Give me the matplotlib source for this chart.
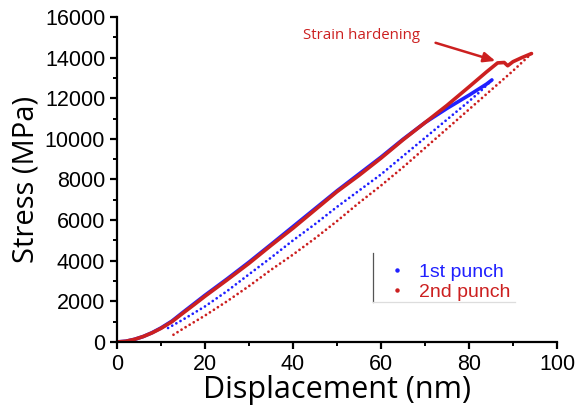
import matplotlib.pyplot as plt
from matplotlib.lines import Line2D

# =========================
# DATA
# =========================
# 2nd punch loading (dense)
load2_x = [0, 2, 4, 6, 8, 10, 12.5, 15, 17.5, 20, 25, 30, 35, 40, 45, 50, 55,
           60, 65, 70, 75, 80, 84, 86.5, 88, 88.8, 90, 92, 94.2]
load2_y = [0, 35, 130, 270, 450, 670, 1000, 1420, 1830, 2250, 3050, 3870,
           4750, 5600, 6500, 7400, 8200, 9050, 9950, 10800, 11650, 12560,
           13300, 13740, 13760, 13600, 13800, 14000, 14200]

# 1st punch loading (dense)
load1_x = [0, 2, 4, 6, 8, 10, 12.5, 15, 17.5, 20, 25, 30, 35, 40, 45, 50, 55,
           60, 65, 70, 75, 80, 84, 85.2]
load1_y = [0, 35, 130, 270, 460, 690, 1030, 1460, 1880, 2300, 3100, 3930,
           4800, 5680, 6560, 7440, 8270, 9100, 9980, 10800, 11500, 12150,
           12700, 12900]

# 1st punch unloading (sparse)
unload1_x = [85.2, 82.5, 80, 75, 70, 65, 60, 55, 50, 45, 40, 35, 30, 25, 20,
             15, 11.3]
unload1_y = [12900, 12320, 11850, 10950, 10050, 9150, 8250, 7450, 6650, 5800,
             5000, 4150, 3330, 2500, 1750, 1100, 650]

# 2nd punch unloading (sparse)
unload2_x = [94.2, 90, 85, 80, 75, 70, 65, 60, 55, 50, 45, 40, 35, 30, 25,
             20, 15, 12.8]
unload2_y = [14200, 13350, 12400, 11450, 10500, 9550, 8600, 7700, 6850, 5950,
             5100, 4300, 3550, 2750, 2000, 1300, 650, 350]

BLUE = "#2020ff"
RED = "#cc2020"

# =========================
# FIGURE
# =========================
fig = plt.figure(figsize=(5.79, 4.15), dpi=100)
ax = fig.add_axes([0.202, 0.176, 0.76, 0.783])

dots = (0, (0.01, 1.7))

ax.plot(unload2_x, unload2_y, color=RED, lw=2.0, linestyle=dots,
        dash_capstyle="round")
ax.plot(unload1_x, unload1_y, color=BLUE, lw=2.0, linestyle=dots,
        dash_capstyle="round")
ax.plot(load1_x, load1_y, color=BLUE, lw=2.6, solid_capstyle="round")
ax.plot(load2_x, load2_y, color=RED, lw=2.6, solid_capstyle="round")

ax.set_xlim(0, 100)
ax.set_ylim(0, 16000)
ax.set_xticks([0, 20, 40, 60, 80, 100])
ax.set_xticks([10, 30, 50, 70, 90], minor=True)
ax.set_yticks(range(0, 16001, 2000))
ax.set_yticks(range(1000, 16000, 2000), minor=True)

for s in ["top", "right"]:
    ax.spines[s].set_visible(False)
for s in ["left", "bottom"]:
    ax.spines[s].set_linewidth(1.6)

ax.tick_params(which="major", direction="out", length=5, width=1.6,
               labelsize=15.5)
ax.tick_params(which="minor", direction="out", length=3, width=1.4)
for lab in ax.get_xticklabels() + ax.get_yticklabels():
    lab.set_family("Liberation Sans")

ax.set_xlabel("Displacement (nm)", fontsize=22, family="Open Sans", labelpad=0)
ax.set_ylabel("Stress (MPa)", fontsize=21, family="Open Sans", labelpad=3)

# annotation
ax.annotate("", xy=(86.6, 13800), xytext=(71.8, 14770),
            arrowprops=dict(arrowstyle="-|>,head_length=0.7,head_width=0.3",
                            color=RED, lw=1.8))
ax.text(42.3, 15110, "Strain hardening", color=RED, fontsize=10.8,
        family="Open Sans", va="center", ha="left")

# legend
handles = [Line2D([], [], color=BLUE, marker="o", markersize=2.2, lw=0),
           Line2D([], [], color=RED, marker="o", markersize=2.2, lw=0)]
leg = ax.legend(handles, ["1st punch", "2nd punch"], loc="upper left",
                bbox_to_anchor=(0.575, 0.295), frameon=False,
                prop={"family": "Liberation Sans", "size": 14},
                handlelength=1.0, handletextpad=0.6, labelspacing=0.1)
leg.get_texts()[0].set_color(BLUE)
leg.get_texts()[1].set_color(RED)

# partial legend frame (left and bottom edges only)
fig.add_artist(Line2D([373 / 579, 373 / 579], [1 - 253 / 415, 1 - 302 / 415],
                      color="#555555", lw=0.9))
fig.add_artist(Line2D([373 / 579, 515 / 579], [1 - 302 / 415, 1 - 302 / 415],
                      color="#dddddd", lw=0.9))

fig.savefig("out.png", dpi=100)
